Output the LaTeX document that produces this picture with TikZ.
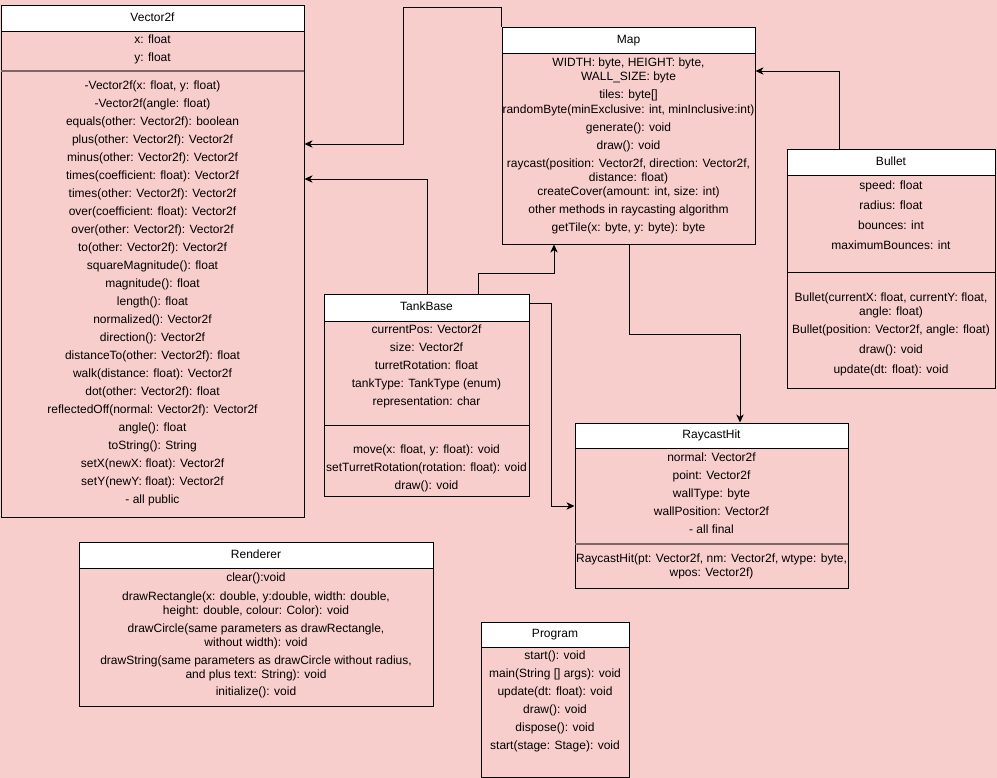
\documentclass[tikz,border=0pt]{standalone}
\usepackage{fontspec}
\setmainfont{Liberation Sans}
\usetikzlibrary{arrows.meta,fit}
\definecolor{bgpink}{HTML}{F8CECC}
\definecolor{sepgray}{RGB}{124,103,102}
\begin{document}
\begin{tikzpicture}[x=0.75pt,y=-0.75pt,line width=0.75pt]
\tikzstyle{classbox}=[draw, fill=bgpink, inner sep=0pt]
\tikzstyle{header}=[draw, fill=white, inner sep=0pt]
\tikzstyle{member}=[inner sep=0pt, text height=6.5pt, text depth=1.8pt, font=\fontsize{9}{11}\selectfont]
\tikzstyle{sep}=[draw]
\tikzstyle{thicksep}=[draw=sepgray, line width=1.3pt]
\tikzstyle{assoc}=[-{Stealth[length=6pt,width=5.5pt,inset=1.8pt]}]

\fill[bgpink] (0,0) rectangle (997,778);
\useasboundingbox (0,0) rectangle (997,778);

% class boxes
\node[classbox, fit={(1,5) (304,517)}] (vec) {};
\node[classbox, fit={(502,27) (755,244)}] (map) {};
\node[classbox, fit={(787,149) (995,388)}] (bullet) {};
\node[classbox, fit={(324,294) (529,496)}] (tank) {};
\node[classbox, fit={(575,423) (848,588)}] (ray) {};
\node[classbox, fit={(79,542) (433,706)}] (rend) {};
\node[classbox, fit={(481,622) (629,777)}] (prog) {};

% headers
\node[header, fit={(1,5) (304,31)}] (vec_h) {};
\node[header, fit={(502,27) (755,53)}] (map_h) {};
\node[header, fit={(787,149) (995,175)}] (bullet_h) {};
\node[header, fit={(324,294) (529,321)}] (tank_h) {};
\node[header, fit={(575,423) (848,448)}] (ray_h) {};
\node[header, fit={(79,542) (433,568)}] (rend_h) {};
\node[header, fit={(481,622) (629,647)}] (prog_h) {};

\node[member] (vec_t) at (vec_h) {Vector2f};
\node[member] (map_t) at (map_h) {Map};
\node[member] (bullet_t) at (bullet_h) {Bullet};
\node[member] (tank_t) at (tank_h) {TankBase};
\node[member] (ray_t) at (ray_h) {RaycastHit};
\node[member] (rend_t) at (rend_h) {Renderer};
\node[member] (prog_t) at (prog_h) {Program};

% separators
\draw[thicksep] (1,71) -- (304,71);
\draw[sep] (787,272) -- (995,272);
\draw[sep] (324,425) -- (529,425);
\draw[thicksep] (575,544) -- (848,544);

% Vector2f
\node[member] (v_a_1) at (152.5,40) {x: float};
\node[member] (v_a_2) at (152.5,58) {y: float};
\node[member] (v_m_1) at (152.5,86) {-Vector2f(x: float, y: float)};
\node[member] (v_m_2) at (152.5,104) {-Vector2f(angle: float)};
\node[member] (v_m_3) at (152.5,122) {equals(other: Vector2f): boolean};
\node[member] (v_m_4) at (152.5,140) {plus(other: Vector2f): Vector2f};
\node[member] (v_m_5) at (152.5,158) {minus(other: Vector2f): Vector2f};
\node[member] (v_m_6) at (152.5,176) {times(coefficient: float): Vector2f};
\node[member] (v_m_7) at (152.5,194) {times(other: Vector2f): Vector2f};
\node[member] (v_m_8) at (152.5,212) {over(coefficient: float): Vector2f};
\node[member] (v_m_9) at (152.5,230) {over(other: Vector2f): Vector2f};
\node[member] (v_m_10) at (152.5,248) {to(other: Vector2f): Vector2f};
\node[member] (v_m_11) at (152.5,266) {squareMagnitude(): float};
\node[member] (v_m_12) at (152.5,284) {magnitude(): float};
\node[member] (v_m_13) at (152.5,302) {length(): float};
\node[member] (v_m_14) at (152.5,320) {normalized(): Vector2f};
\node[member] (v_m_15) at (152.5,338) {direction(): Vector2f};
\node[member] (v_m_16) at (152.5,356) {distanceTo(other: Vector2f): float};
\node[member] (v_m_17) at (152.5,374) {walk(distance: float): Vector2f};
\node[member] (v_m_18) at (152.5,392) {dot(other: Vector2f): float};
\node[member] (v_m_19) at (152.5,410) {reflectedOff(normal: Vector2f): Vector2f};
\node[member] (v_m_20) at (152.5,428) {angle(): float};
\node[member] (v_m_21) at (152.5,446) {toString(): String};
\node[member] (v_m_22) at (152.5,464) {setX(newX: float): Vector2f};
\node[member] (v_m_23) at (152.5,482) {setY(newY: float): Vector2f};
\node[member] (v_m_24) at (152.5,500) {- all public};

% Map
\node[member] (m_a_1) at (628.5,63) {WIDTH: byte, HEIGHT: byte,};
\node[member] (m_a_2) at (628.5,77) {WALL\_SIZE: byte};
\node[member] (m_a_3) at (628.5,95) {tiles: byte[]};
\node[member] (m_m_1) at (628.5,110) {randomByte(minExclusive: int, minInclusive:int)};
\node[member] (m_m_2) at (628.5,128) {generate(): void};
\node[member] (m_m_3) at (628.5,146) {draw(): void};
\node[member] (m_m_4) at (628.5,164) {raycast(position: Vector2f, direction: Vector2f,};
\node[member] (m_m_5) at (628.5,178) {distance: float)};
\node[member] (m_m_6) at (628.5,192) {createCover(amount: int, size: int)};
\node[member] (m_m_7) at (628.5,210) {other methods in raycasting algorithm};
\node[member] (m_m_8) at (628.5,228) {getTile(x: byte, y: byte): byte};

% Bullet
\node[member] (b_a_1) at (891,186) {speed: float};
\node[member] (b_a_2) at (891,206) {radius: float};
\node[member] (b_a_3) at (891,226) {bounces: int};
\node[member] (b_a_4) at (891,246) {maximumBounces: int};
\node[member] (b_m_1) at (891,298) {Bullet(currentX: float, currentY: float,};
\node[member] (b_m_2) at (891,312) {angle: float)};
\node[member] (b_m_3) at (891,330) {Bullet(position: Vector2f, angle: float)};
\node[member] (b_m_4) at (891,350) {draw(): void};
\node[member] (b_m_5) at (891,370) {update(dt: float): void};

% TankBase
\node[member] (t_a_1) at (426.5,330) {currentPos: Vector2f};
\node[member] (t_a_2) at (426.5,348) {size: Vector2f};
\node[member] (t_a_3) at (426.5,366) {turretRotation: float};
\node[member] (t_a_4) at (426.5,384) {tankType: TankType (enum)};
\node[member] (t_a_5) at (426.5,402) {representation: char};
\node[member] (t_m_1) at (426.5,450) {move(x: float, y: float): void};
\node[member] (t_m_2) at (426.5,468) {setTurretRotation(rotation: float): void};
\node[member] (t_m_3) at (426.5,486) {draw(): void};

% RaycastHit
\node[member] (r_a_1) at (711.5,458) {normal: Vector2f};
\node[member] (r_a_2) at (711.5,476) {point: Vector2f};
\node[member] (r_a_3) at (711.5,494) {wallType: byte};
\node[member] (r_a_4) at (711.5,512) {wallPosition: Vector2f};
\node[member] (r_a_5) at (711.5,530) {- all final};
\node[member] (r_m_1) at (711.5,559) {RaycastHit(pt: Vector2f, nm: Vector2f, wtype: byte,};
\node[member] (r_m_2) at (711.5,573) {wpos: Vector2f)};

% Renderer
\node[member] (re_m_1) at (256,578) {clear():void};
\node[member] (re_m_2) at (256,597) {drawRectangle(x: double, y:double, width: double,};
\node[member] (re_m_3) at (256,611) {height: double, colour: Color): void};
\node[member] (re_m_4) at (256,629) {drawCircle(same parameters as drawRectangle,};
\node[member] (re_m_5) at (256,643) {without width): void};
\node[member] (re_m_6) at (256,661) {drawString(same parameters as drawCircle without radius,};
\node[member] (re_m_7) at (256,675) {and plus text: String): void};
\node[member] (re_m_8) at (256,692) {initialize(): void};

% Program
\node[member] (p_m_1) at (555,656) {start(): void};
\node[member] (p_m_2) at (555,674) {main(String [] args): void};
\node[member] (p_m_3) at (555,692) {update(dt: float): void};
\node[member] (p_m_4) at (555,710) {draw(): void};
\node[member] (p_m_5) at (555,728) {dispose(): void};
\node[member] (p_m_6) at (555,746) {start(stage: Stage): void};

% bends
\coordinate (map_top) at (403,7);
\coordinate (map_vec) at (0,144);
\coordinate (tank_vec) at (427,179);
\coordinate (tank_map) at (478,273);
\coordinate (tank_map_2) at (554,0);
\coordinate (tank_ray) at (551,303);
\coordinate (tank_ray_2) at (0,506);
\coordinate (map_ray) at (629,334);
\coordinate (map_ray_2) at (740,0);
\coordinate (bullet_map) at (839,71);

\draw[assoc] (map.north west) |- (map_top) |- (vec.east |- map_vec);
\draw[assoc] (tank.north -| tank_vec) |- (vec.east |- tank_vec);
\draw[assoc] (tank.north -| tank_map) |- (tank_map_2 |- tank_map) -- (map.south -| tank_map_2);
\draw[assoc] (tank.east |- tank_ray) -| (tank_ray |- tank_ray_2) -- (ray.west |- tank_ray_2);
\draw[assoc] (map.south -| map_ray) |- (map_ray_2 |- map_ray) -- (ray.north -| map_ray_2);
\draw[assoc] (bullet.north -| bullet_map) |- (map.east |- bullet_map);

\end{tikzpicture}
\end{document}
